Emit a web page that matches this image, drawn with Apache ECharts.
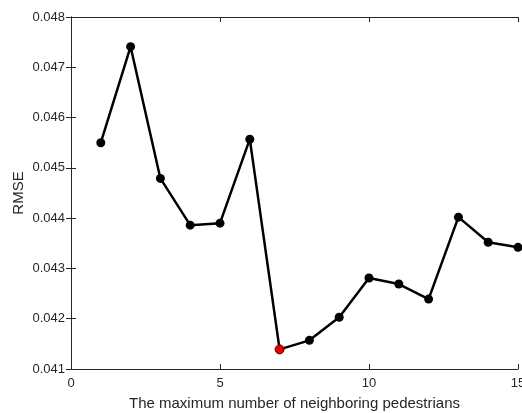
<!DOCTYPE html>
<html>
<head>
<meta charset="utf-8">
<script src="https://cdn.jsdelivr.net/npm/echarts@6/dist/echarts.min.js"></script>
<style>html,body{margin:0;padding:0;background:#fff}#c{width:522px;height:413px}</style>
</head>
<body>
<div id="c"></div>
<script>
const xValues = [1,2,3,4,5,6,7,8,9,10,11,12,13,14,15];
const rmse = [0.04550,0.04741,0.04479,0.04386,0.04390,0.04557,0.04139,0.04157,0.04203,0.04281,0.04269,0.04239,0.04402,0.04352,0.04342];
const bestIndex = 6;
const xTicks = [0,5,10,15];
const yTicks = [0.041,0.042,0.043,0.044,0.045,0.046,0.047,0.048];

const font = 'Liberation Sans, Arial, Helvetica, sans-serif';
const axisColor = '#262626';
const data = xValues.map((x,i)=>{
  const d = {value:[x, rmse[i]]};
  if (i === bestIndex) d.itemStyle = {color:'#e00000', borderColor:'#6a0000', borderWidth:1};
  return d;
});
const chart = echarts.init(document.getElementById('c'), null, {renderer:'canvas'});
const common = {
  axisLine:{show:true, lineStyle:{color:axisColor, width:1}},
  axisTick:{show:true, inside:true, length:5, lineStyle:{color:axisColor}},
  splitLine:{show:false}
};
chart.setOption({
  animation:false,
  backgroundColor:'#fff',
  grid:{left:71, right:4, top:17, bottom:44, containLabel:false, outerBoundsMode:'none'},
  xAxis:[
    Object.assign({type:'value', min:xTicks[0], max:xTicks[xTicks.length-1], interval:5, position:'bottom',
      name:'The maximum number of neighboring pedestrians', nameLocation:'middle', nameGap:27,
      nameTextStyle:{fontFamily:font, fontSize:15, color:axisColor},
      axisLabel:{fontFamily:font, fontSize:13, color:axisColor, margin:8}}, common),
    Object.assign({type:'value', min:0, max:15, interval:5, position:'top', axisLabel:{show:false}}, common)
  ],
  yAxis:[
    Object.assign({type:'value', min:yTicks[0], max:yTicks[yTicks.length-1], interval:0.001, position:'left',
      name:'RMSE', nameLocation:'middle', nameGap:45, nameMoveOverlap:false,
      nameTextStyle:{fontFamily:font, fontSize:15, color:axisColor},
      axisLabel:{fontFamily:font, fontSize:13, color:axisColor, margin:6, formatter:v=>v.toFixed(3)}}, common),
    Object.assign({type:'value', min:0.041, max:0.048, interval:0.001, position:'right', axisLabel:{show:false}}, common)
  ],
  series:[{
    type:'line', data:data, xAxisIndex:0, yAxisIndex:0,
    symbol:'circle', symbolSize:9,
    lineStyle:{color:'#000', width:2.5},
    itemStyle:{color:'#000'}
  }]
});
</script>
</body>
</html>
